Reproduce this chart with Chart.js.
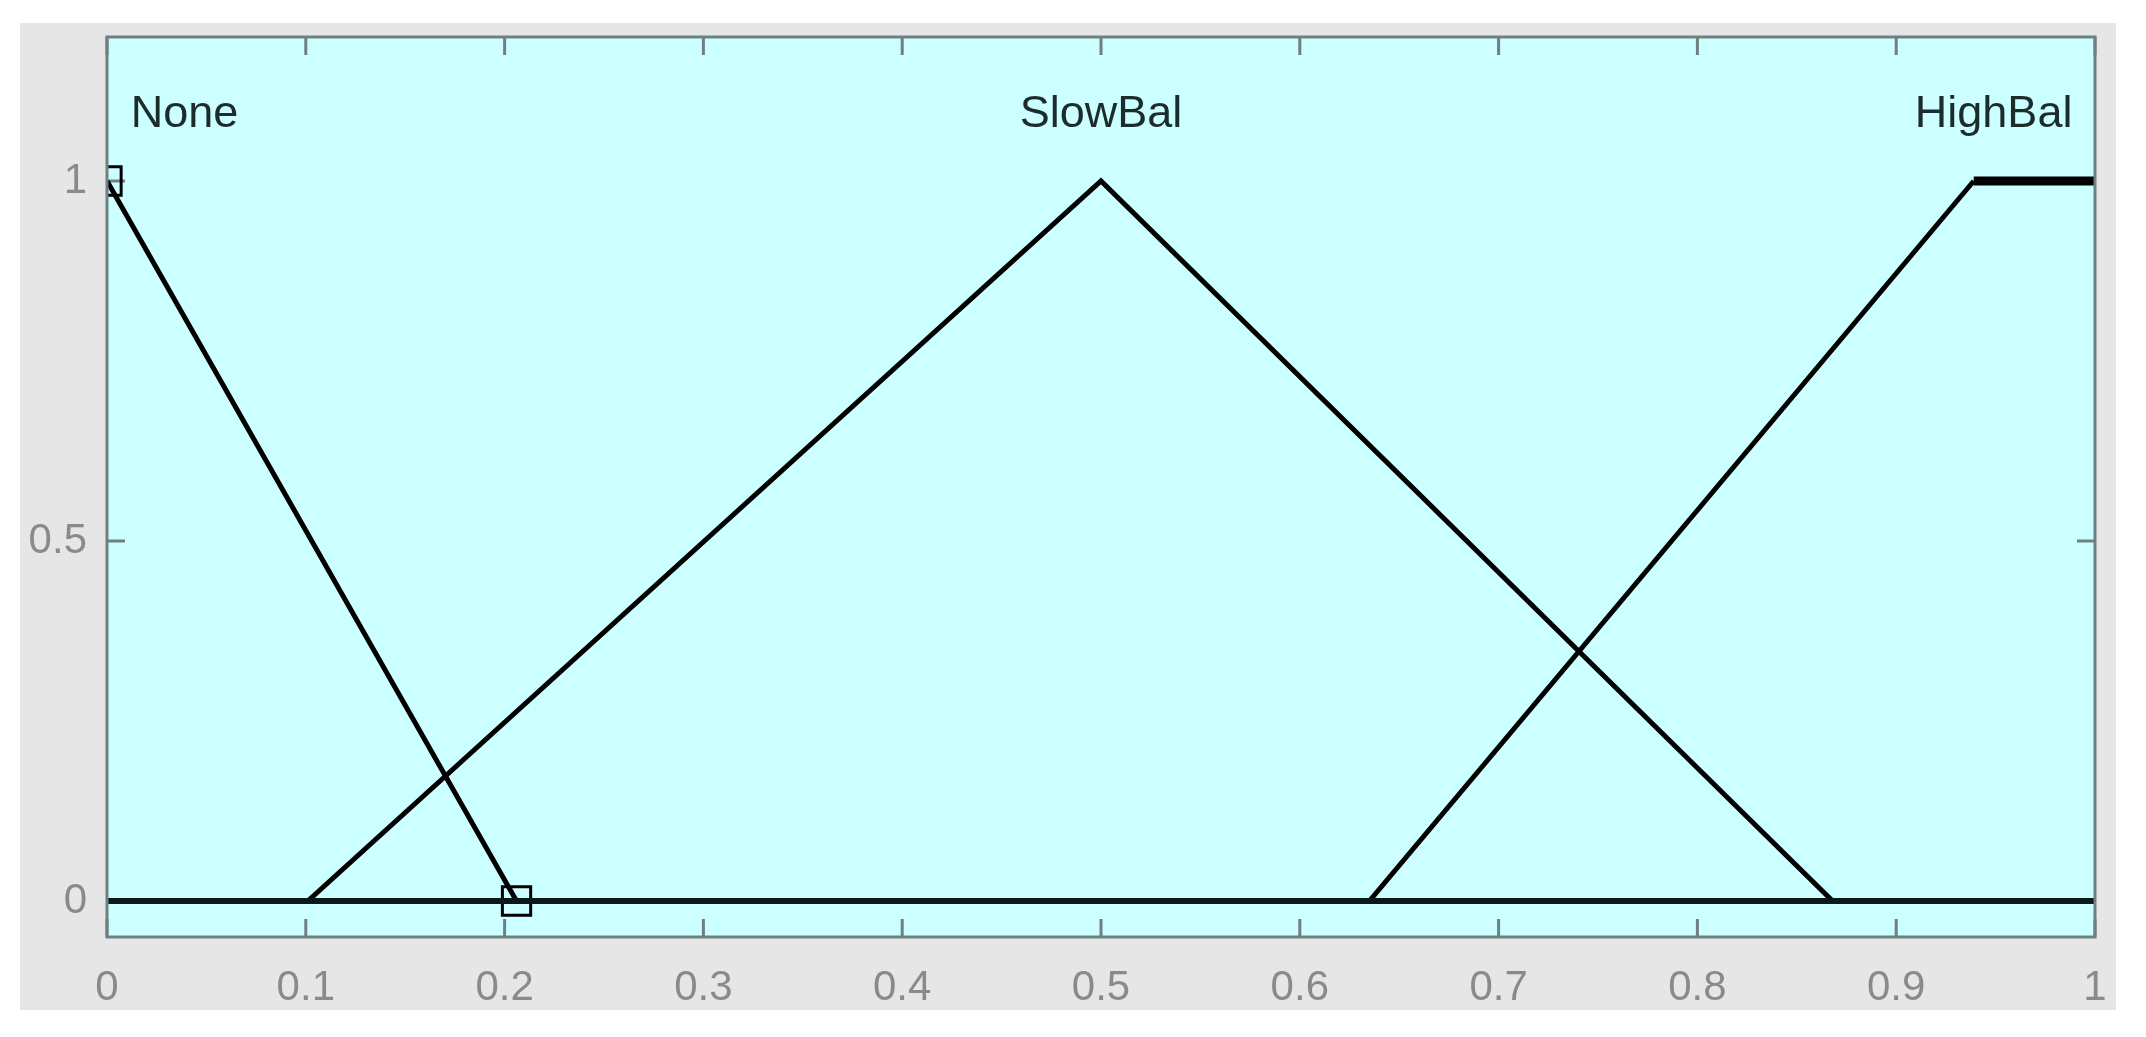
<!DOCTYPE html>
<html>
<head>
<meta charset="utf-8">
<title>Membership functions</title>
<script src="https://cdn.jsdelivr.net/npm/chart.js@4.4.0/dist/chart.umd.min.js"></script>
<style>
  html, body { margin: 0; padding: 0; background: #ffffff; }
  canvas { display: block; }
</style>
</head>
<body>
<canvas id="mf-chart" width="2146" height="1037"></canvas>
<script>
// membership functions (x, y vertices)
const noneX = [0, 0.206, 1];
const noneY = [1, 0, 0];
const slowX = [0, 0.101, 0.5, 0.868, 1];
const slowY = [0, 0, 1, 0, 0];
const highX = [0, 0.635, 0.939, 1];
const highY = [0, 0, 1, 1];

// selected MF handles (None)
const handleX = [0, 0.206];
const handleY = [1, 0];

// MF names and where they are written
const mfNames = ["None", "SlowBal", "HighBal"];
const mfLabelX = [0.039, 0.5, 0.949];
const mfLabelY = [1.092, 1.092, 1.092];

// axis ticks
const xTickValues = [0, 0.1, 0.2, 0.3, 0.4, 0.5, 0.6, 0.7, 0.8, 0.9, 1];
const xTickLabels = ["0", "0.1", "0.2", "0.3", "0.4", "0.5", "0.6", "0.7", "0.8", "0.9", "1"];
const yTickValues = [0, 0.5, 1];
const yTickLabels = ["0", "0.5", "1"];

const FONT = "'Liberation Sans', Arial, Helvetica, sans-serif";
const FRAME = "#6f8080";

function toPoints(xs, ys) {
  return xs.map((x, i) => ({ x: x, y: ys[i] }));
}

const panelPlugin = {
  id: "panel",
  beforeDraw(chart) {
    const { ctx, chartArea } = chart;
    ctx.save();
    ctx.fillStyle = "#ffffff";
    ctx.fillRect(0, 0, chart.width, chart.height);
    ctx.fillStyle = "#e6e6e6";
    ctx.fillRect(20, 23, 2096, 987);
    ctx.fillStyle = "#ccffff";
    ctx.fillRect(chartArea.left, chartArea.top, chartArea.right - chartArea.left, chartArea.bottom - chartArea.top);
    ctx.restore();
  },
  beforeDatasetsDraw(chart) {
    const { ctx, chartArea, scales } = chart;
    const x = scales.x;
    const y = scales.y;
    ctx.save();
    ctx.strokeStyle = FRAME;
    ctx.lineWidth = 3;
    // inward tick marks on all four sides
    const tl = 18;
    ctx.beginPath();
    xTickValues.forEach((v) => {
      const px = x.getPixelForValue(v);
      ctx.moveTo(px, chartArea.bottom);
      ctx.lineTo(px, chartArea.bottom - tl);
      ctx.moveTo(px, chartArea.top);
      ctx.lineTo(px, chartArea.top + tl);
    });
    yTickValues.forEach((v) => {
      const py = y.getPixelForValue(v);
      ctx.moveTo(chartArea.left, py);
      ctx.lineTo(chartArea.left + tl, py);
      ctx.moveTo(chartArea.right, py);
      ctx.lineTo(chartArea.right - tl, py);
    });
    ctx.stroke();

    // MF names
    ctx.fillStyle = "#1c2c2c";
    ctx.font = "45px " + FONT;
    ctx.textAlign = "center";
    ctx.textBaseline = "middle";
    mfNames.forEach((name, i) => {
      ctx.fillText(name, x.getPixelForValue(mfLabelX[i]), y.getPixelForValue(mfLabelY[i]));
    });
    ctx.restore();
  },
  afterDatasetsDraw(chart) {
    const { ctx, chartArea } = chart;
    ctx.save();
    ctx.strokeStyle = FRAME;
    ctx.lineWidth = 3;
    ctx.strokeRect(chartArea.left, chartArea.top, chartArea.right - chartArea.left, chartArea.bottom - chartArea.top);
    ctx.restore();
  },
};

const lineStyle = {
  borderColor: "#000000",
  borderWidth: 5,
  pointRadius: 0,
  tension: 0,
  fill: false,
  borderJoinStyle: "miter",
};

new Chart(document.getElementById("mf-chart").getContext("2d"), {
  type: "line",
  data: {
    datasets: [
      {
        label: "baseline",
        data: toPoints([0, 1], [0, 0]),
        ...lineStyle,
        borderColor: "#0a1818",
        borderWidth: 6,
      },
      { label: mfNames[0], data: toPoints(noneX, noneY), ...lineStyle },
      { label: mfNames[1], data: toPoints(slowX, slowY), ...lineStyle },
      {
        label: mfNames[2],
        data: toPoints(highX, highY),
        ...lineStyle,
        segment: {
          borderWidth: (c) => (c.p0.parsed.y === 1 && c.p1.parsed.y === 1 ? 9 : 5),
        },
      },
      {
        label: "handles",
        data: toPoints(handleX, handleY),
        showLine: false,
        pointStyle: "rect",
        pointRadius: 20,
        pointBorderWidth: 3,
        pointBorderColor: "#000000",
        pointBackgroundColor: "rgba(0,0,0,0)",
        clip: 0,
      },
    ],
  },
  options: {
    responsive: false,
    animation: false,
    events: [],
    layout: { padding: { left: 20, top: 37, right: 51, bottom: 0 } },
    plugins: {
      legend: { display: false },
      tooltip: { enabled: false },
    },
    scales: {
      x: {
        type: "linear",
        min: 0,
        max: 1,
        afterBuildTicks: (scale) => {
          scale.ticks = xTickValues.map((v) => ({ value: v }));
        },
        afterFit: (scale) => {
          scale.height = 100;
          scale.paddingLeft = 0;
          scale.paddingRight = 0;
        },
        grid: { display: false, drawTicks: false },
        border: { display: false },
        ticks: {
          color: "#8a8a8a",
          padding: 26,
          maxRotation: 0,
          autoSkip: false,
          font: { family: FONT, size: 42 },
          callback: (v) => xTickLabels[xTickValues.indexOf(v)] ?? "",
        },
      },
      y: {
        type: "linear",
        min: -0.05,
        max: 1.2,
        afterBuildTicks: (scale) => {
          scale.ticks = yTickValues.map((v) => ({ value: v }));
        },
        afterFit: (scale) => {
          scale.width = 87;
          scale.paddingTop = 0;
          scale.paddingBottom = 0;
        },
        grid: { display: false, drawTicks: false },
        border: { display: false },
        ticks: {
          color: "#8a8a8a",
          padding: 20,
          autoSkip: false,
          font: { family: FONT, size: 42 },
          callback: (v) => yTickLabels[yTickValues.indexOf(v)] ?? "",
        },
      },
    },
  },
  plugins: [panelPlugin],
});
</script>
</body>
</html>
